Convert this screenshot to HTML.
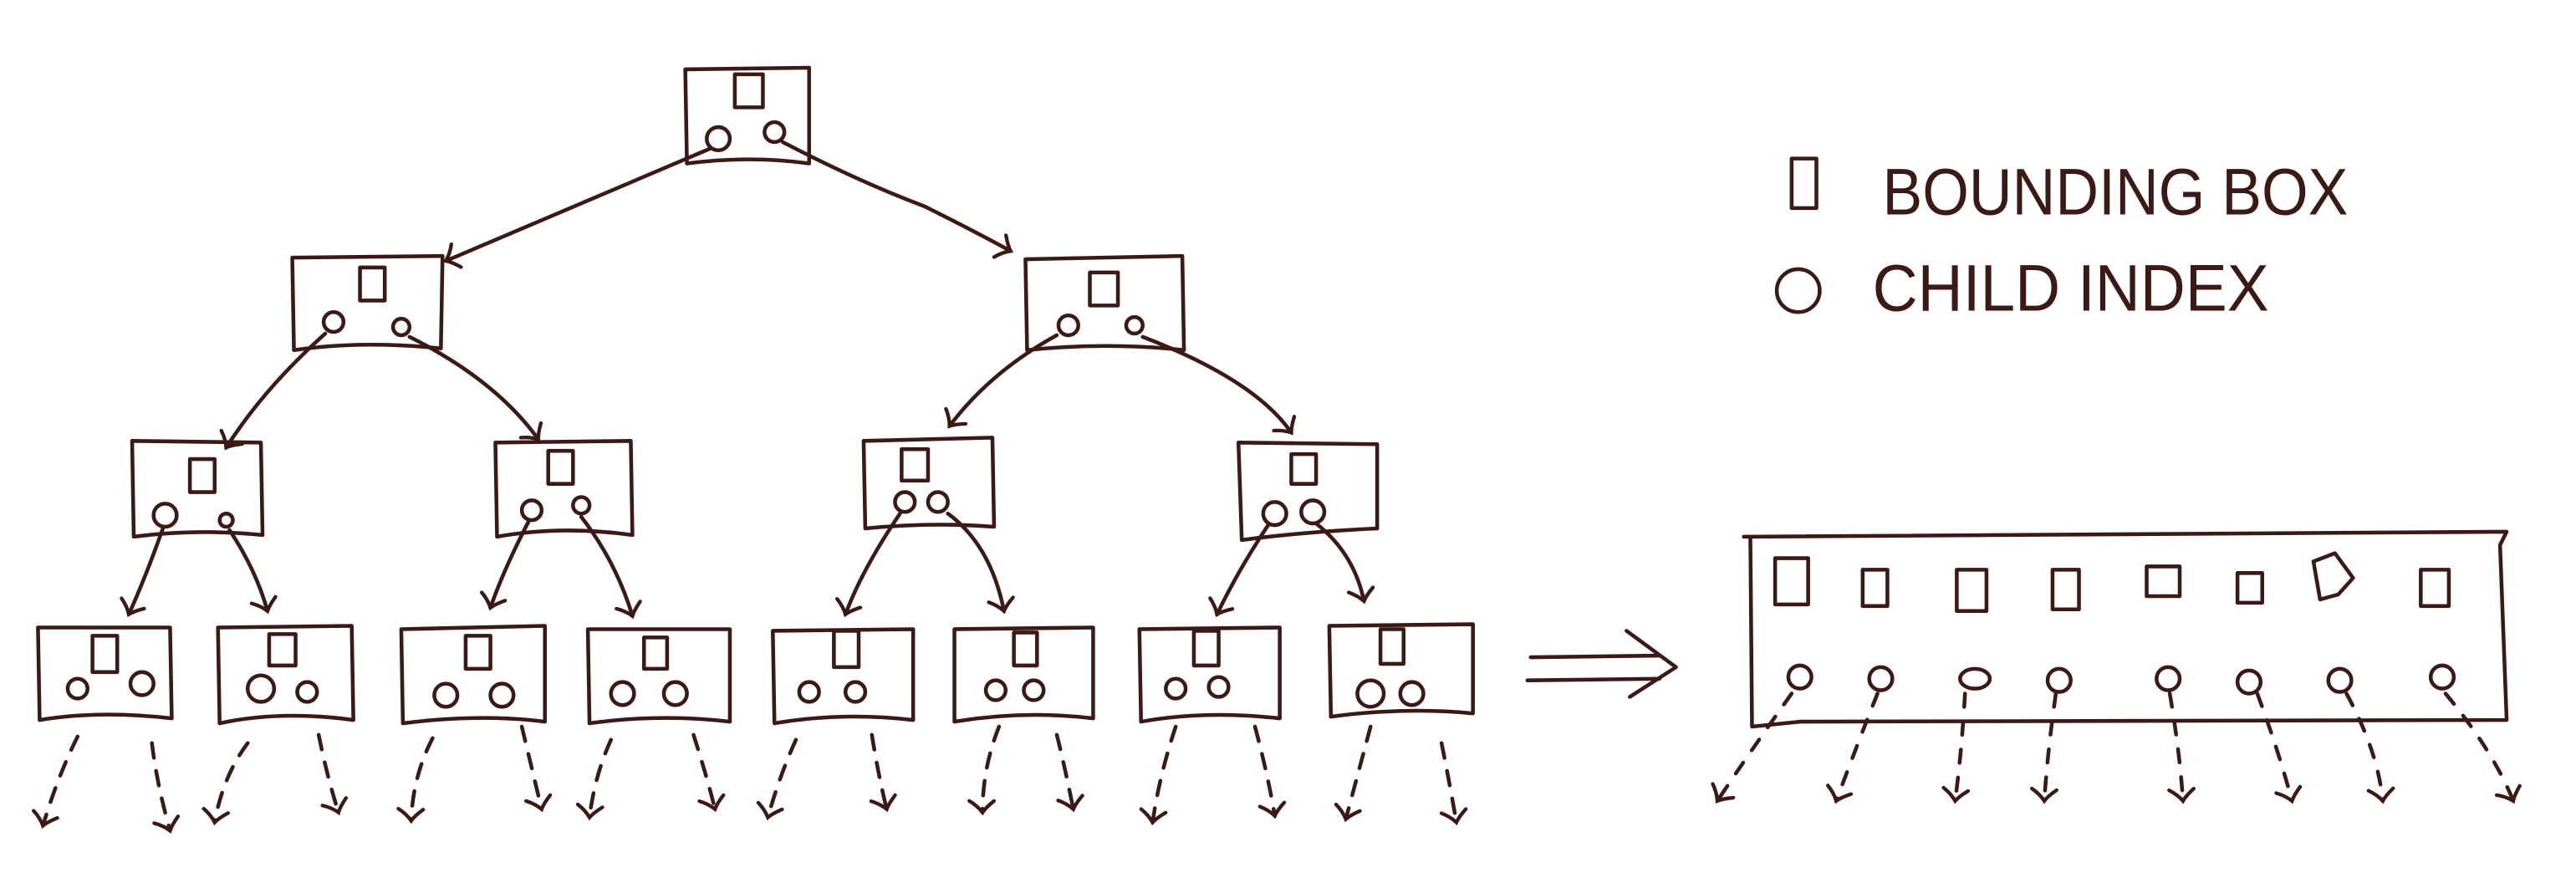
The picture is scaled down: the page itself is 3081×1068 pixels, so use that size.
<!DOCTYPE html>
<html><head><meta charset="utf-8"><style>
html,body{margin:0;padding:0;background:#fff;}
svg{display:block;}
</style></head><body>
<svg width="3081" height="1068" viewBox="0 0 1560 540.76" xmlns="http://www.w3.org/2000/svg">
<defs>
<marker id="a" viewBox="-10 -10 20 20" markerWidth="20" markerHeight="20" refX="0" refY="0" orient="auto" markerUnits="userSpaceOnUse">
<path d="M-7,-7 Q-3,-2 0,0 Q-4,3 -7,8" fill="none" stroke="#3b1a16" stroke-width="2.2" stroke-linecap="round"/>
</marker>
</defs>
<g fill="none" stroke="#3b1a16" stroke-width="2.3" stroke-linecap="round" stroke-linejoin="round">
<!-- root -->
<path d="M415,42 L490,41 L490,99 Q455,94 416,99 Z"/>
<rect x="445" y="45" width="17" height="20"/>
<circle cx="435" cy="84" r="7"/><circle cx="469" cy="80" r="6"/>
<path d="M430,90 Q360,120 270,158" marker-end="url(#a)"/>
<path d="M474,86 Q520,110 560,125 Q590,140 612,152" marker-end="url(#a)"/>
<!-- L1 -->
<path d="M177,156 L268,155 L267,211 Q220,206 178,212 Z"/>
<rect x="218" y="162" width="15" height="20"/>
<circle cx="202" cy="195" r="6"/><circle cx="243" cy="198" r="5"/>
<path d="M621,157 L716,155 L717,212 Q670,207 622,212 Z"/>
<rect x="660" y="165" width="17" height="20"/>
<circle cx="647" cy="197" r="6"/><circle cx="687" cy="197" r="5"/>
<path d="M197,202 Q160,235 137,271" marker-end="url(#a)"/>
<path d="M248,204 Q300,230 326,266" marker-end="url(#a)"/>
<path d="M640,203 Q600,225 575,258" marker-end="url(#a)"/>
<path d="M692,204 Q760,230 782,262" marker-end="url(#a)"/>
<!-- L2 -->
<path d="M80,267 L158,268 L159,324 Q120,320 81,325 Z"/>
<rect x="115" y="278" width="15" height="20"/>
<circle cx="100" cy="312" r="7"/><circle cx="137" cy="315" r="4"/>
<path d="M300,268 L382,267 L383,324 Q340,318 301,325 Z"/>
<rect x="332" y="273" width="15" height="20"/>
<circle cx="322" cy="309" r="6"/><circle cx="352" cy="306" r="5"/>
<path d="M523,267 L601,265 L602,319 Q565,316 524,320 Z"/>
<rect x="546" y="272" width="16" height="19"/>
<circle cx="548" cy="304" r="6"/><circle cx="568" cy="304" r="6"/>
<path d="M750,268 L834,269 L834,320 Q790,322 752,327 Z"/>
<rect x="782" y="275" width="15" height="18"/>
<circle cx="772" cy="311" r="7"/><circle cx="795" cy="310" r="7"/>
<path d="M99,319 Q88,350 78,372" marker-end="url(#a)"/>
<path d="M139,321 Q155,345 162,370" marker-end="url(#a)"/>
<path d="M320,316 Q305,345 297,368" marker-end="url(#a)"/>
<path d="M352,313 Q373,340 383,373" marker-end="url(#a)"/>
<path d="M545,311 Q522,345 512,372" marker-end="url(#a)"/>
<path d="M574,311 Q600,330 608,370" marker-end="url(#a)"/>
<path d="M768,318 Q750,345 737,372" marker-end="url(#a)"/>
<path d="M797,317 Q820,335 826,364" marker-end="url(#a)"/>
<!-- L3 -->
<path d="M23,380 L103,380 L104,435 Q60,430 24,436 Z"/>
<rect x="56" y="385" width="15" height="22"/>
<circle cx="47" cy="417" r="6"/><circle cx="86" cy="414" r="7"/>
<path d="M132,380 L213,379 L214,436 Q170,430 133,438 Z"/>
<rect x="163" y="384" width="16" height="19"/>
<circle cx="158" cy="417" r="8"/><circle cx="186" cy="419" r="6"/>
<path d="M243,381 L330,379 L330,437 Q290,432 244,438 Z"/>
<rect x="282" y="385" width="15" height="20"/>
<circle cx="270" cy="421" r="7"/><circle cx="304" cy="421" r="7"/>
<path d="M356,381 L442,381 L442,437 Q400,432 357,438 Z"/>
<rect x="390" y="386" width="14" height="19"/>
<circle cx="377" cy="420" r="7"/><circle cx="409" cy="420" r="7"/>
<path d="M468,382 L553,381 L553,436 Q510,431 469,438 Z"/>
<rect x="505" y="382" width="15" height="22"/>
<circle cx="490" cy="419" r="6"/><circle cx="518" cy="419" r="6"/>
<path d="M578,381 L662,380 L662,435 Q620,430 578,437 Z"/>
<rect x="614" y="383" width="14" height="20"/>
<circle cx="603" cy="418" r="6"/><circle cx="626" cy="418" r="6"/>
<path d="M690,381 L775,380 L775,435 Q730,430 691,437 Z"/>
<rect x="723" y="382" width="15" height="21"/>
<circle cx="712" cy="417" r="6"/><circle cx="738" cy="416" r="6"/>
<path d="M805,379 L892,378 L892,432 Q850,428 806,434 Z"/>
<rect x="836" y="381" width="14" height="21"/>
<circle cx="830" cy="420" r="8"/><circle cx="855" cy="420" r="7"/>
<!-- dashed legs tree -->
<g stroke-dasharray="9,8">
<path d="M47,446 Q35,470 26,500" marker-end="url(#a)"/>
<path d="M92,450 Q95,475 103,503" marker-end="url(#a)"/>
<path d="M150,450 Q135,470 130,498" marker-end="url(#a)"/>
<path d="M193,445 Q198,470 205,492" marker-end="url(#a)"/>
<path d="M262,447 Q250,470 249,497" marker-end="url(#a)"/>
<path d="M316,440 Q322,465 328,490" marker-end="url(#a)"/>
<path d="M370,448 Q360,470 357,495" marker-end="url(#a)"/>
<path d="M420,445 Q428,470 433,490" marker-end="url(#a)"/>
<path d="M482,448 Q472,470 465,495" marker-end="url(#a)"/>
<path d="M528,445 Q532,470 537,490" marker-end="url(#a)"/>
<path d="M605,440 Q595,465 595,492" marker-end="url(#a)"/>
<path d="M640,445 Q645,465 650,490" marker-end="url(#a)"/>
<path d="M712,440 Q702,470 698,498" marker-end="url(#a)"/>
<path d="M760,440 Q768,470 772,494" marker-end="url(#a)"/>
<path d="M830,440 Q822,470 815,496" marker-end="url(#a)"/>
<path d="M873,450 Q878,475 882,498" marker-end="url(#a)"/>
</g>
<!-- double arrow -->
<path d="M927,398 L1005,397"/>
<path d="M925,412 L1005,411"/>
<path d="M985,382 L1015,404 L987,422"/>
<!-- array -->
<path d="M1060,325 L1518,322 L1514,330 L1518,436 L1090,437 L1061,440 Z"/>
<path d="M1056,325 L1060,325"/>
<rect x="1075" y="338" width="20" height="28"/>
<rect x="1128" y="345" width="15" height="22"/>
<rect x="1185" y="345" width="18" height="25"/>
<rect x="1243" y="345" width="16" height="24"/>
<rect x="1300" y="343" width="20" height="18"/>
<rect x="1355" y="347" width="15" height="18"/>
<path d="M1401,340 L1414,335 L1425,350 L1416,360 L1405,363 Z"/>
<rect x="1466" y="345" width="17" height="22"/>
<circle cx="1090" cy="410" r="7"/><circle cx="1139" cy="411" r="7"/>
<ellipse cx="1196" cy="411" rx="9" ry="6"/><circle cx="1247" cy="412" r="7"/>
<circle cx="1313" cy="411" r="7"/><circle cx="1362" cy="413" r="7"/>
<circle cx="1417" cy="412" r="7"/><circle cx="1479" cy="410" r="7"/>
<g stroke-dasharray="8,9">
<path d="M1085,420 Q1060,455 1040,485" marker-end="url(#a)"/>
<path d="M1137,420 Q1125,450 1112,485" marker-end="url(#a)"/>
<path d="M1190,420 Q1188,455 1184,485" marker-end="url(#a)"/>
<path d="M1245,420 Q1240,455 1238,485" marker-end="url(#a)"/>
<path d="M1314,420 Q1320,455 1322,485" marker-end="url(#a)"/>
<path d="M1367,420 Q1380,455 1388,485" marker-end="url(#a)"/>
<path d="M1421,420 Q1440,455 1443,485" marker-end="url(#a)"/>
<path d="M1481,420 Q1510,455 1522,485" marker-end="url(#a)"/>
</g>
<!-- legend -->
<rect x="1085" y="96" width="15" height="30"/>
<circle cx="1089" cy="176" r="13"/>
</g>
<g fill="#3b1a16" font-family="Liberation Sans, sans-serif" font-size="40">
<text x="1140" y="130" textLength="282" lengthAdjust="spacingAndGlyphs">BOUNDING BOX</text>
<text x="1134" y="188" textLength="240" lengthAdjust="spacingAndGlyphs">CHILD INDEX</text>
</g>
</svg>
</body></html>
